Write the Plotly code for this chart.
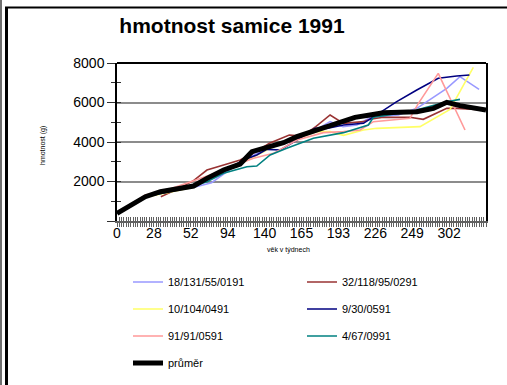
import plotly.graph_objects as go

# Category axis: 161 measurement slots, every 16th one labelled with the age in weeks
tick_labels = ["0", "28", "52", "94", "140", "165", "193", "226", "249", "302"]
tick_step = 16
n_categories = 161

# Individual females (category index, weight in g)
f1_name = "18/131/55/0191"
f1_x = [18.8, 33, 41, 53, 65, 78, 86, 92.4, 98, 104, 110, 122, 130, 143, 148.7, 157]
f1_y = [1400, 1700, 1940, 2950, 3680, 4240, 4600, 5030, 4776, 4860, 5250, 5367, 5705, 6717, 7308, 6667]

f2_name = "32/118/95/0291"
f2_x = [19, 26, 33.2, 39, 47.7, 53.4, 59, 66.1, 74.7, 80.5, 86.2, 92.4, 98.2, 106.9, 109.7, 115.5, 127, 132.8, 143, 147.3, 160]
f2_y = [1230, 1600, 2042, 2582, 2886, 3089, 3426, 3933, 4354, 4304, 4776, 5367, 4945, 5030, 5148, 5249, 5249, 5148, 5705, 5705, 5620]

f3_name = "10/104/0491"
f3_x = [0, 12.3, 33.2, 46.2, 53.4, 66.4, 78, 86.6, 92.4, 98.2, 106.9, 112.6, 131.4, 144.4, 154.5]
f3_y = [400, 1200, 1705, 2582, 2886, 3680, 4186, 4523, 4523, 4338, 4608, 4692, 4776, 5654, 7781]

f4_name = "9/30/0591"
f4_x = [0, 12.3, 33.2, 46.2, 54.9, 60.6, 65, 70.8, 78, 85.9, 91, 98.2, 106.9, 112.6, 121.3, 130, 139.3, 147.3, 152.8]
f4_y = [388, 1232, 1738, 2498, 3089, 3342, 3629, 3595, 4101, 4692, 4692, 4861, 4945, 5367, 6042, 6633, 7224, 7342, 7392]

f5_name = "91/91/0591"
f5_x = [0, 12.3, 21.7, 33.2, 40.4, 53.4, 59.2, 67.9, 78, 89.5, 98.2, 105.4, 111.2, 127, 130.7, 139.3, 150.9]
f5_y = [388, 1316, 1570, 2042, 2329, 2920, 3173, 3426, 4101, 4473, 4523, 4608, 5030, 5198, 5958, 7477, 4608]

f6_name = "4/67/0991"
f6_x = [0, 12.3, 33.2, 39, 46.2, 56.3, 60.6, 66.4, 73.6, 85.2, 98.2, 109, 111.2, 127, 143, 148.7]
f6_y = [388, 1232, 1772, 1992, 2413, 2751, 2785, 3342, 3680, 4186, 4473, 4861, 5249, 5536, 6042, 6160]

# Mean of all females
mean_name = "průměr"
mean_x = [0, 12.3, 18.8, 33.2, 39, 46.2, 53.4, 58.5, 65, 72.2, 78, 85.2, 92.4, 98.2, 103.2, 109.7, 115.5, 122.7, 130, 137.2, 143, 148.7, 160]
mean_y = [388, 1232, 1485, 1772, 2160, 2582, 2886, 3511, 3730, 3966, 4270, 4557, 4810, 5030, 5249, 5367, 5485, 5502, 5536, 5705, 6009, 5840, 5620]

FONT = "Liberation Sans, Arial, sans-serif"

series = [
    (f1_name, f1_x, f1_y, "#9999FF", "legend"),
    (f2_name, f2_x, f2_y, "#993333", "legend"),
    (f3_name, f3_x, f3_y, "#FFFF66", "legend2"),
    (f4_name, f4_x, f4_y, "#000080", "legend2"),
    (f5_name, f5_x, f5_y, "#FF9999", "legend3"),
    (f6_name, f6_x, f6_y, "#008080", "legend3"),
]

fig = go.Figure()
for name, xs, ys, color, leg in series:
    fig.add_trace(go.Scatter(x=xs, y=ys, name=name, mode="lines",
                             line=dict(color=color, width=1.6), legend=leg))
fig.add_trace(go.Scatter(x=mean_x, y=mean_y, name=mean_name, mode="lines",
                         line=dict(color="black", width=5), legend="legend4"))
# carrier trace for the overlay axes that draw the inner half of the crossing ticks
fig.add_trace(go.Scatter(x=[None], y=[None], xaxis="x2", yaxis="y2",
                         showlegend=False, hoverinfo="skip"))

W, H = 507, 385
L, R, T, B = 117, 21, 63, 164
pw, ph = W - L - R, H - T - B


def px(x):
    return (x - L) / pw


def py(y):
    return (H - B - y) / ph


xr = [0, n_categories - 1]
fig.update_layout(
    width=W, height=H,
    margin=dict(l=L, r=R, t=T, b=B),
    paper_bgcolor="white", plot_bgcolor="white",
    font=dict(family=FONT, color="black"),
    title=dict(text="<b>hmotnost samice 1991</b>", x=232 / W, xanchor="center",
               xref="container", y=1 - 26 / H, yanchor="middle", yref="container",
               font=dict(size=21, family=FONT, color="black")),
    xaxis=dict(range=xr, tickmode="array",
               tickvals=[i * tick_step for i in range(len(tick_labels))],
               ticktext=tick_labels, ticks="outside", ticklen=4, tickwidth=1,
               tickcolor="#606060", ticklabelstandoff=-6,
               minor=dict(tickmode="linear", tick0=0, dtick=1, ticks="outside",
                          ticklen=4, tickwidth=1, tickcolor="#606060", showgrid=False),
               showline=True, linecolor="#606060", linewidth=1.5,
               showgrid=False, zeroline=False,
               tickfont=dict(size=14, family=FONT, color="black")),
    xaxis2=dict(range=xr, overlaying="x", anchor="y2", side="bottom",
                tickmode="linear", tick0=0, dtick=1, ticks="inside", ticklen=4,
                tickwidth=1, tickcolor="#606060", showticklabels=False,
                showline=False, showgrid=False, zeroline=False),
    yaxis=dict(range=[0, 8000], tickmode="array",
               tickvals=[0, 2000, 4000, 6000, 8000],
               ticktext=["", "2000", "4000", "6000", "8000"],
               ticks="outside", ticklen=8, tickwidth=1, tickcolor="#303030",
               minor=dict(tickmode="linear", tick0=0, dtick=1000, ticks="outside",
                          ticklen=4, tickwidth=1, tickcolor="#303030", showgrid=False),
               showline=True, linecolor="black", linewidth=1.5, mirror=True,
               showgrid=True, gridcolor="#8c8c8c", gridwidth=1.5, zeroline=False,
               tickfont=dict(size=14, family=FONT, color="black")),
    yaxis2=dict(range=[0, 8000], overlaying="y", anchor="x2", side="left",
                tickmode="linear", tick0=0, dtick=1000, ticks="inside", ticklen=4,
                tickwidth=1, tickcolor="#303030", showticklabels=False,
                showline=False, showgrid=False, zeroline=False),
    annotations=[
        dict(text="hmotnost (g)", textangle=-90, x=px(43), y=py(146), xref="paper",
             yref="paper", showarrow=False, xanchor="center", yanchor="middle",
             font=dict(size=7, family=FONT, color="black")),
        dict(text="věk v týdnech", x=px(288), y=py(250), xref="paper",
             yref="paper", showarrow=False, xanchor="center", yanchor="middle",
             font=dict(size=7, family=FONT, color="black")),
    ],
    shapes=[
        # top border of the plot area
        dict(type="line", xref="paper", yref="paper", x0=0, x1=1, y0=1, y1=1,
             line=dict(color="black", width=2)),
        # chart frame: double rule on the left, rule along the top
        dict(type="line", xref="paper", yref="paper", x0=px(1), x1=px(1),
             y0=py(0), y1=py(H), line=dict(color="#404040", width=1.5)),
        dict(type="line", xref="paper", yref="paper", x0=px(6.5), x1=px(6.5),
             y0=py(7), y1=py(H), line=dict(color="black", width=3)),
        dict(type="line", xref="paper", yref="paper", x0=px(5), x1=px(W),
             y0=py(7.5), y1=py(7.5), line=dict(color="black", width=2)),
    ],
)

rows = [("legend", 282), ("legend2", 309), ("legend3", 336), ("legend4", 363)]
for key, ypix in rows:
    fig.update_layout({key: dict(
        orientation="h", x=128 / W, xanchor="left", xref="container",
        y=1 - ypix / H, yanchor="middle", yref="container",
        entrywidth=129, entrywidthmode="pixels", itemwidth=30,
        bgcolor="rgba(0,0,0,0)", borderwidth=0,
        font=dict(size=11, family=FONT, color="black"),
        traceorder="normal")})

fig.write_html("out.html")
